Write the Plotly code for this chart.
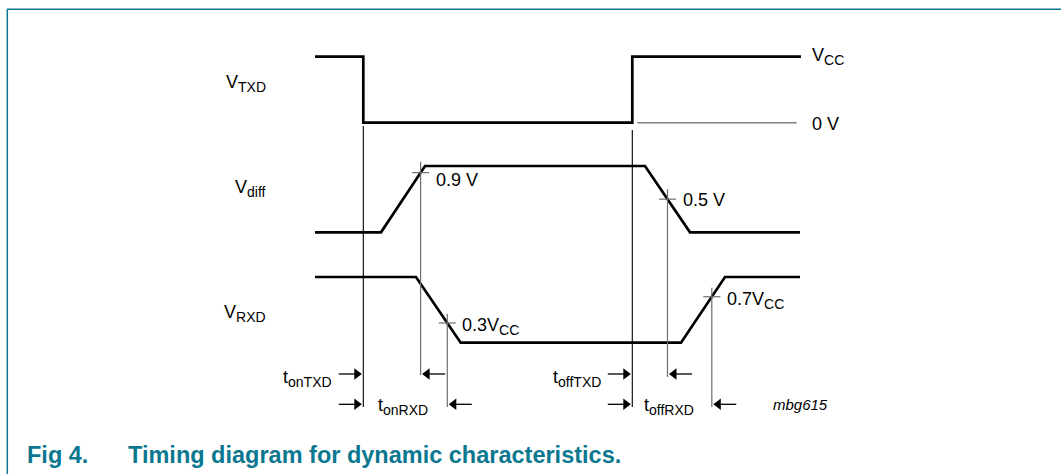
import numpy as np
import plotly.graph_objects as go

# ---------------- data (diagram units: x = time position, y = vertical position) -------------
# waveform break points (time) and logic levels (1 = high, 0 = low)
txd_t = [315, 363.3, 363.3, 632.3, 632.3, 801]
txd_lvl = [1, 1, 0, 0, 1, 1]
diff_t = [315, 381, 425, 645, 690, 800]
diff_lvl = [0, 0, 1, 1, 0, 0]
rxd_t = [315, 416, 460.7, 681, 725, 800]
rxd_lvl = [1, 1, 0, 0, 1, 1]

SUB = '<span style="font-size:14px">{}</span>'
row_names = ["V<sub>" + SUB.format("TXD") + "</sub>",
             "V<sub>" + SUB.format("diff") + "</sub>",
             "V<sub>" + SUB.format("RXD") + "</sub>"]
row_high = [56.7, 166.0, 277.0]
row_low = [122.7, 232.3, 342.7]
row_label_y = [83, 188, 313]

# threshold levels (fraction of swing) and labels
diff_on_thr, diff_off_thr = 0.9, 0.5
rxd_on_thr, rxd_off_thr = 0.3, 0.7
thr_labels = ["0.9 V", "0.5 V", "0.3V<sub>" + SUB.format("CC") + "</sub>",
              "0.7V<sub>" + SUB.format("CC") + "</sub>"]
level_labels = ["V<sub>" + SUB.format("CC") + "</sub>", "0 V"]
time_labels = ["t<sub>" + SUB.format("onTXD") + "</sub>", "t<sub>" + SUB.format("onRXD") + "</sub>",
               "t<sub>" + SUB.format("offTXD") + "</sub>", "t<sub>" + SUB.format("offRXD") + "</sub>"]
caption_num = "Fig 4."
caption_text = "Timing diagram for dynamic characteristics."
code_label = "mbg615"

FONT = "Liberation Sans, Arial, Helvetica, sans-serif"
TEAL = "#0b7890"
W, H = 1061, 474


def ypos(row, lvl):
    lvl = np.asarray(lvl, dtype=float)
    return row_low[row] + lvl * (row_high[row] - row_low[row])


def crossing(ts, lv, i0, thr):
    # time where the edge between points i0 and i0+1 reaches level thr
    a, b = lv[i0], lv[i0 + 1]
    f = (thr - a) / (b - a)
    return ts[i0] + f * (ts[i0 + 1] - ts[i0])


x_on_diff = crossing(diff_t, diff_lvl, 1, diff_on_thr)
x_off_diff = crossing(diff_t, diff_lvl, 3, diff_off_thr)
x_on_rxd = crossing(rxd_t, rxd_lvl, 1, rxd_on_thr)
x_off_rxd = crossing(rxd_t, rxd_lvl, 3, rxd_off_thr)
x_txd_fall = txd_t[1]
x_txd_rise = txd_t[3]

y_on_diff = ypos(1, diff_on_thr)
y_off_diff = ypos(1, diff_off_thr)
y_on_rxd = ypos(2, rxd_on_thr)
y_off_rxd = ypos(2, rxd_off_thr)

row1_y, row2_y = 374.0, 404.3

fig = go.Figure()

# waveforms
for row, (t, lv) in enumerate([(txd_t, txd_lvl), (diff_t, diff_lvl), (rxd_t, rxd_lvl)]):
    fig.add_trace(go.Scatter(x=t, y=ypos(row, lv), mode="lines",
                             line=dict(color="black", width=2.7), hoverinfo="skip"))

# 0 V reference line
fig.add_trace(go.Scatter(x=[x_txd_rise + 5, 796.7], y=[row_low[0], row_low[0]], mode="lines",
                         line=dict(color="#808080", width=1.4), hoverinfo="skip"))

# vertical timing lines (black for TXD edges, grey for threshold crossings)
vx_black, vy_black = [], []
for xv, y0, y1 in [(x_txd_fall, 126, 407), (x_txd_rise, 130, 407)]:
    vx_black += [xv, xv, None]
    vy_black += [y0, y1, None]
fig.add_trace(go.Scatter(x=vx_black, y=vy_black, mode="lines",
                         line=dict(color="black", width=1.1), hoverinfo="skip"))

vx_g, vy_g = [], []
for xv, y0, y1 in [(x_on_diff, y_on_diff - 11, 375), (x_off_diff, y_off_diff - 10, 377),
                   (x_on_rxd, y_on_rxd - 9, 407), (x_off_rxd, y_off_rxd - 9, 407)]:
    vx_g += [xv, xv, None]
    vy_g += [y0, y1, None]
# short horizontal cross ticks
for xv, yv in [(x_on_diff, y_on_diff), (x_off_diff, y_off_diff),
               (x_on_rxd, y_on_rxd), (x_off_rxd, y_off_rxd)]:
    vx_g += [xv - 8.5, xv + 8.5, None]
    vy_g += [yv, yv, None]
fig.add_trace(go.Scatter(x=vx_g, y=vy_g, mode="lines",
                         line=dict(color="#6e6e6e", width=1.2), hoverinfo="skip"))

# timing arrows: (tip x, row y, direction) drawn as shaft + triangle head
arrows = [(x_txd_fall, row1_y, 1), (x_txd_fall, row2_y, 1),
          (x_on_diff, row1_y, -1), (x_on_rxd, row2_y, -1),
          (x_txd_rise, row1_y, 1), (x_txd_rise, row2_y, 1),
          (x_off_diff, row1_y, -1), (x_off_rxd, row2_y, -1)]
sx, sy = [], []
hx_r, hy_r, hx_l, hy_l = [], [], [], []
for xv, yv, d in arrows:
    tip = xv - d * 1.5
    sx += [tip - d * 23, tip - d * 4, None]
    sy += [yv, yv, None]
    if d > 0:
        hx_r.append(tip - 5)
        hy_r.append(yv)
    else:
        hx_l.append(tip + 5)
        hy_l.append(yv)
fig.add_trace(go.Scatter(x=sx, y=sy, mode="lines", line=dict(color="black", width=1.3),
                         hoverinfo="skip"))
fig.add_trace(go.Scatter(x=hx_r, y=hy_r, mode="markers",
                         marker=dict(symbol="triangle-right", size=10, color="black",
                                     line=dict(width=0)), hoverinfo="skip"))
fig.add_trace(go.Scatter(x=hx_l, y=hy_l, mode="markers",
                         marker=dict(symbol="triangle-left", size=10, color="black",
                                     line=dict(width=0)), hoverinfo="skip"))

ann = []
txt = dict(family=FONT, size=18, color="black")

# row labels
for name, yl in zip(row_names, row_label_y):
    ann.append(dict(x=268, y=yl, text=name, xanchor="right", yanchor="middle",
                    showarrow=False, font=txt))
# level labels
ann.append(dict(x=810, y=row_high[0] - 0.5, text=level_labels[0], xanchor="left", yanchor="middle",
                showarrow=False, font=txt))
ann.append(dict(x=810, y=row_low[0] + 1, text=level_labels[1], xanchor="left", yanchor="middle",
                showarrow=False, font=txt))
# threshold labels
for (xv, yv), lab in zip([(x_on_diff, y_on_diff + 7), (x_off_diff, y_off_diff + 1),
                          (x_on_rxd, y_on_rxd + 4), (x_off_rxd, y_off_rxd + 4)], thr_labels):
    ann.append(dict(x=xv + 13, y=yv, text=lab, xanchor="left", yanchor="middle",
                    showarrow=False, font=txt))

# time labels
ann.append(dict(x=334, y=row1_y + 4, text=time_labels[0], xanchor="right", yanchor="middle",
                showarrow=False, font=txt))
ann.append(dict(x=376, y=row2_y + 2, text=time_labels[1], xanchor="left", yanchor="middle",
                showarrow=False, font=txt))
ann.append(dict(x=603, y=row1_y + 4, text=time_labels[2], xanchor="right", yanchor="middle",
                showarrow=False, font=txt))
ann.append(dict(x=642, y=row2_y + 2, text=time_labels[3], xanchor="left", yanchor="middle",
                showarrow=False, font=txt))
ann.append(dict(x=771, y=row2_y, text="<i>" + code_label + "</i>", xanchor="left", yanchor="middle",
                showarrow=False, font=dict(family=FONT, size=15, color="black")))

# caption
cap_font = dict(family=FONT, size=23.5, color=TEAL)
ann.append(dict(x=25, y=455, text="<b>" + caption_num + "</b>", xanchor="left", yanchor="middle",
                showarrow=False, font=cap_font))
ann.append(dict(x=126, y=455, text="<b>" + caption_text + "</b>", xanchor="left", yanchor="middle",
                showarrow=False, font=cap_font))

for a in ann:
    a.setdefault("xref", "x")
    a.setdefault("yref", "y")

shapes = [
    dict(type="line", xref="x", yref="y", x0=7, x1=W, y0=9.3, y1=9.3, line=dict(color=TEAL, width=1.5)),
    dict(type="line", xref="x", yref="y", x0=7.3, x1=7.3, y0=9.3, y1=H, line=dict(color=TEAL, width=1.5)),
]

fig.update_layout(
    width=W, height=H, margin=dict(l=0, r=0, t=0, b=0),
    paper_bgcolor="white", plot_bgcolor="white", showlegend=False,
    xaxis=dict(range=[0, W], visible=False, fixedrange=True),
    yaxis=dict(range=[H, 0], visible=False, fixedrange=True),
    annotations=ann, shapes=shapes,
)

fig.write_html("out.html", config={"displayModeBar": False},
               post_script="document.body.style.margin='0';document.body.style.overflow='hidden';")
